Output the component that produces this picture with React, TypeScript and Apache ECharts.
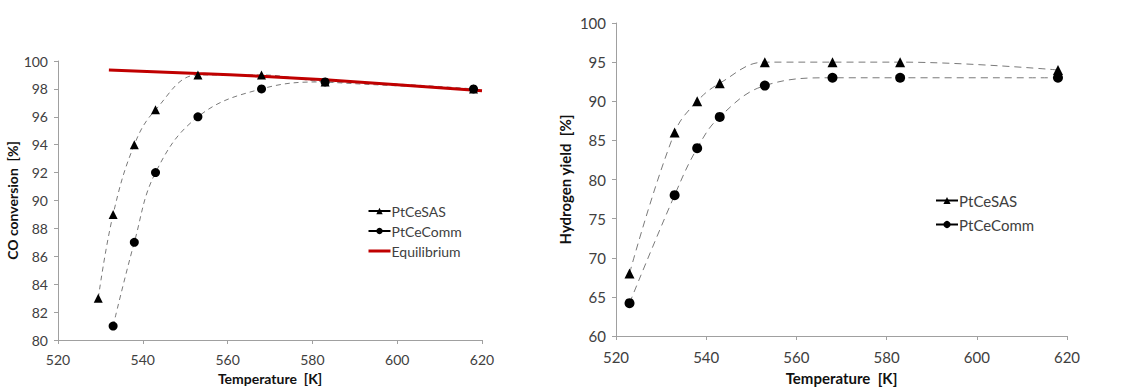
import React, { useEffect, useRef } from "react";
import * as echarts from "echarts";

// Left chart: CO conversion [%]
const coSAS: [number, number][] = [
  [529.5, 83], [533, 89], [538, 94], [543, 96.5], [553, 99], [568, 99], [583, 98.5], [618, 98],
];
const coComm: [number, number][] = [
  [533, 81], [538, 87], [543, 92], [553, 96], [568, 98], [583, 98.5], [618, 98],
];
const coEquilibrium: [number, number][] = [
  [532, 99.35], [553, 99.1], [568, 98.9], [583, 98.65], [600, 98.3], [620, 97.87],
];

// Right chart: Hydrogen yield [%]
const h2SAS: [number, number][] = [
  [523, 68], [533, 86], [538, 90], [543, 92.3], [553, 95], [568, 95], [583, 95], [618, 94],
];
const h2Comm: [number, number][] = [
  [523, 64.2], [533, 78], [538, 84], [543, 88], [553, 92], [568, 93], [583, 93], [618, 93],
];

const FONT = "Lato";
const AXIS_COLOR = "#a0a0a0";
const LABEL_COLOR = "#404040";

function xAxis(gridIndex: number, size: number, labelSize: number, gap: number, margin: number) {
  return {
    type: "value",
    gridIndex,
    min: 520,
    max: 620,
    interval: 20,
    name: "Temperature  [K]",
    nameLocation: "middle",
    nameGap: gap,
    nameTextStyle: { fontFamily: FONT, fontWeight: "bold", fontSize: size, color: "#111" },
    axisLine: { show: true, lineStyle: { color: AXIS_COLOR, width: 1 } },
    axisTick: { show: true, length: 4, lineStyle: { color: AXIS_COLOR } },
    axisLabel: { fontFamily: FONT, fontSize: labelSize, color: LABEL_COLOR, margin },
    splitLine: { show: false },
  };
}

function yAxis(
  gridIndex: number, name: string, min: number, max: number, interval: number,
  size: number, labelSize: number, gap: number,
) {
  return {
    type: "value",
    gridIndex,
    min,
    max,
    interval,
    name,
    nameLocation: "middle",
    nameGap: gap,
    nameTextStyle: { fontFamily: FONT, fontWeight: "bold", fontSize: size, color: "#111" },
    axisLine: { show: true, lineStyle: { color: AXIS_COLOR, width: 1 } },
    axisTick: { show: true, length: 4, lineStyle: { color: AXIS_COLOR } },
    axisLabel: { fontFamily: FONT, fontSize: labelSize, color: LABEL_COLOR, margin: 10 },
    splitLine: { show: false },
  };
}

function dashed(name: string, data: [number, number][], symbol: string, idx: number, symbolSize: number, dash: number[]) {
  return {
    name,
    type: "line",
    xAxisIndex: idx,
    yAxisIndex: idx,
    data,
    smooth: 0.4,
    symbol,
    symbolSize,
    showSymbol: true,
    itemStyle: { color: "#000" },
    lineStyle: { color: "#7a7a7a", width: 1, type: dash },
    emphasis: { disabled: true },
  };
}

export default function App() {
  const ref = useRef<HTMLDivElement>(null);
  useEffect(() => {
    if (!ref.current) return;
    const chart = echarts.init(ref.current, undefined, { renderer: "svg" });
    chart.setOption({
      animation: false,
      backgroundColor: "#fff",
      grid: [
        { left: 58, top: 61, width: 424, height: 284 },
        { left: 616, top: 23, width: 451, height: 317 },
      ],
      xAxis: [xAxis(0, 14, 14, 31, 12), xAxis(1, 15, 15, 34, 13)],
      yAxis: [
        yAxis(0, "CO conversion  [%]", 80, 100, 2, 14, 14, 37),
        yAxis(1, "Hydrogen yield  [%]", 60, 100, 5, 15, 15, 44),
      ],
      legend: [
        {
          orient: "vertical",
          left: 362,
          top: 199,
          itemWidth: 22,
          itemHeight: 8,
          itemGap: 6,
          data: [
            "PtCeSAS",
            "PtCeComm",
            {
              name: "Equilibrium",
              itemStyle: { opacity: 0 },
              lineStyle: { color: "#c00000", width: 3, type: "solid" },
            },
          ],
          textStyle: { fontFamily: FONT, fontSize: 14, color: LABEL_COLOR, padding: [0, 0, 0, -4] },
          lineStyle: { type: "solid", color: "#000" },
          selectedMode: false,
        },
        {
          orient: "vertical",
          left: 930,
          top: 188,
          itemWidth: 22,
          itemHeight: 9,
          itemGap: 9,
          data: ["PtCeSAS", "PtCeComm"],
          textStyle: { fontFamily: FONT, fontSize: 15, color: LABEL_COLOR, padding: [0, 0, 0, -4] },
          lineStyle: { type: "solid", color: "#000" },
          selectedMode: false,
        },
      ],
      series: [
        dashed("PtCeSAS", coSAS, "triangle", 0, 9, [5, 4]),
        dashed("PtCeComm", coComm, "circle", 0, 9, [5, 4]),
        {
          name: "Equilibrium",
          type: "line",
          xAxisIndex: 0,
          yAxisIndex: 0,
          data: coEquilibrium,
          smooth: true,
          symbol: "none",
          itemStyle: { color: "#c00000" },
          lineStyle: { color: "#c00000", width: 3 },
          emphasis: { disabled: true },
        },
        dashed("PtCeSAS", h2SAS, "triangle", 1, 10, [7, 5]),
        dashed("PtCeComm", h2Comm, "circle", 1, 10, [7, 5]),
      ],
    });
    return () => chart.dispose();
  }, []);
  return (
    <div
      ref={ref}
      style={{ position: "absolute", left: 0, top: 0, width: 1132, height: 390 }}
    />
  );
}
